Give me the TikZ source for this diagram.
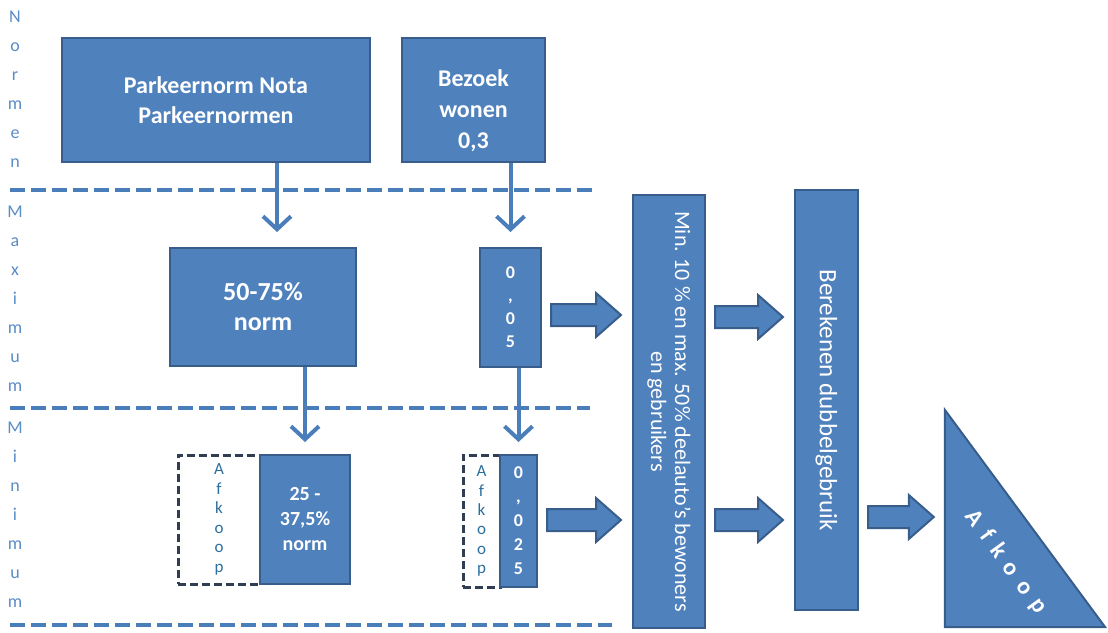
\documentclass[tikz,border=0pt]{standalone}
\usepackage{fontspec}
\setmainfont{Carlito}
\newfontfamily\spacedbold[LetterSpace=42,Ligatures={NoCommon,NoRare},UprightFont=*-Bold]{Carlito}
\usetikzlibrary{arrows.meta,calc}
\definecolor{boxfill}{HTML}{4F81BD}
\definecolor{boxline}{HTML}{385D8A}
\definecolor{linecol}{HTML}{4A7EBB}
\definecolor{sidetxt}{HTML}{5A8CC6}
\definecolor{afktxt}{HTML}{2C6F9E}
\definecolor{dashbox}{HTML}{2F3E52}
\tikzset{
  bluebox/.style={draw=boxline, line width=2pt, fill=boxfill, text=white, inner sep=0pt, align=center},
  dashbx/.style={draw=dashbox, line width=3pt, dash pattern=on 8pt off 4pt, fill=white, text=afktxt, inner sep=0pt, align=center},
  sepline/.style={draw=linecol, line width=4.5pt, dash pattern=on 15pt off 6pt},
  thinarr/.style={draw=linecol, line width=4pt, -{Straight Barb[length=13pt,width=28pt]}},
  barrow/.style={draw=boxline, line width=2pt, fill=boxfill, line join=miter},
  side/.style={text=sidetxt, font=\fontsize{18}{29}\selectfont, align=center, inner sep=0pt},
}
\newcommand\blockarr[3]{%
  \path (0,#3) coordinate (tmprow);
  \draw[barrow] let \p1=#1, \p2=#2, \p3=(tmprow) in
   (\x1+9pt,\y3+11pt) -- (\x2-36pt,\y3+11pt) -- (\x2-36pt,\y3+22pt) -- (\x2-11pt,\y3)
   -- (\x2-36pt,\y3-22pt) -- (\x2-36pt,\y3-11pt) -- (\x1+9pt,\y3-11pt) -- cycle;}
\begin{document}
\begin{tikzpicture}[x=1pt,y=-1pt]
\useasboundingbox (0,0) rectangle (1108,632);

% side labels
\node[side] (normen) at (15,89) {N\\o\\r\\m\\e\\n};
\node[side] (maximum) at (15,299) {M\\a\\x\\i\\m\\u\\m};
\node[side] (minimum) at (15,515) {M\\i\\n\\i\\m\\u\\m};

% separators
\draw[sepline] (10,190) -- (595,190);
\draw[sepline] (10,408) -- (590,408);
\draw[sepline] (10,625) -- (612,625);

% top row
\node[bluebox, minimum width=308pt, minimum height=124pt, font=\bfseries\fontsize{24}{30}\selectfont] (park) at (216,100) {\raisebox{-2pt}[\height][\depth]{\begin{tabular}{@{}c@{}}Parkeernorm Nota\\Parkeernormen\end{tabular}}};
\node[bluebox, minimum width=143pt, minimum height=124pt, font=\bfseries\fontsize{24}{31}\selectfont] (bez) at (473.5,100) {\raisebox{-11pt}[\height][\depth]{\begin{tabular}{@{}c@{}}Bezoek\\wonen\\0,3\end{tabular}}};

% maximum row
\node[bluebox, minimum width=186pt, minimum height=118pt, font=\bfseries\fontsize{26}{30}\selectfont] (b50) at (263,307) {50-75\%\\norm};
\node[bluebox, minimum width=61pt, minimum height=119pt, font=\bfseries\fontsize{18}{23}\selectfont] (b05) at (510.5,307.5) {0\\,\\0\\5};

% minimum row
\node[dashbx, minimum width=82pt, minimum height=129pt, font=\fontsize{17}{19.5}\selectfont] (afk1) at (219,519.5) {A\\f\\k\\o\\o\\p};
\node[bluebox, minimum width=90pt, minimum height=129pt, font=\bfseries\fontsize{20}{25}\selectfont] (b25) at (305,519.5) {25 -\\37,5\%\\norm};
\node[dashbx, minimum width=37pt, minimum height=132pt, font=\fontsize{17}{19.3}\selectfont] (afk2) at (481.5,521) {A\\f\\k\\o\\o\\p};
\node[bluebox, minimum width=37pt, minimum height=132pt, font=\bfseries\fontsize{18}{24}\selectfont] (b025) at (518.5,521) {0\\,\\0\\2\\5};

% tall boxes
\node[bluebox, rotate=-90, minimum width=433pt, minimum height=72pt, font=\fontsize{22}{24}\selectfont] (mn) at (669,411.5) {Min. 10 \% en max. 50\% deelauto’s bewoners\\en gebruikers};
\node[bluebox, rotate=-90, minimum width=420pt, minimum height=63pt, font=\fontsize{25}{28}\selectfont] (bd) at (826.5,400) {Berekenen dubbelgebruik};

% triangle
\node[inner sep=0pt, minimum width=160pt, minimum height=217pt] (tri) at (1025,518.5) {};
\draw[barrow] (tri.north west) -- (tri.south west) -- (tri.south east) -- cycle;
\node[text=white, rotate=-54, font=\spacedbold\fontsize{24}{24}\selectfont] (afk3) at (1006,562) {Afkoop};

% thin arrows
\draw[thinarr, shorten >=15pt] let \p1=($(park.south west)+(216,0)$), \p2=(b50.north) in (\p1) -- (\x1,\y2);
\draw[thinarr, shorten >=15pt] (bez.south -| b05.north) -- (b05.north);
\draw[thinarr, shorten >=12pt] (b50.south -| b25.north) -- (b25.north);
\draw[thinarr, shorten >=12pt] (b05.south -| b025.north) -- (b025.north);

% block arrows
\blockarr{(b05.east)}{(mn.south)}{315}
\blockarr{(b025.east)}{(mn.south)}{520}
\blockarr{(mn.north)}{(bd.south)}{317}
\blockarr{(mn.north)}{(bd.south)}{520}
\blockarr{(bd.north)}{(tri.west)}{517}
\end{tikzpicture}
\end{document}
